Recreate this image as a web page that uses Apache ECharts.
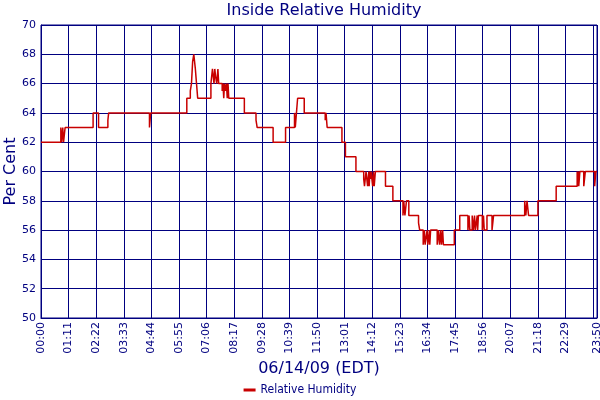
<!DOCTYPE html>
<html>
<head>
<meta charset="utf-8">
<script src="https://cdn.jsdelivr.net/npm/echarts@6/dist/echarts.min.js"></script>
<style>html,body{margin:0;padding:0;background:#fff}#c{width:600px;height:400px}</style>
</head>
<body>
<div id="c"></div>
<script>
// change points: minutes after midnight (06/14/09 EDT)
const minutes = [0,51,53,56,58,62,134,148,172,174,279,282,375,384,387,390,393,397,400,403,
  437,441,445,447,449,452,455,457,466,468,470,472,474,477,479,481,483,523,553,556,597,629,652,654,657,660,677,
  731,733,736,774,783,810,830,832,836,840,843,844,846,847,849,853,855,857,860,886,905,931,933,936,940,946,971,974,
  983,986,988,993,995,999,1000,1002,1019,1022,1025,1028,1030,1033,1035,1063,1077,
  1098,1101,1103,1109,1112,1115,1117,1122,1123,1125,1135,1138,1140,1147,1160,1164,
  1244,1247,1250,1254,1278,1325,1379,1380,1382,1383,1386,1396,1400,1424,1427,1430];
// relative humidity (%) from each change point onwards
const humidity = [62,63,62,63,62,63,64,63,63.5,64,63,64,65,65.5,66,67.5,68,67,66,65,
  66,67,66,67,66.5,66,67,66,65.5,66,65,66,65.5,66,65,66,65,64,63.5,63,62,63,64,63,64,65,64,
  63.5,64,63,62,61,60,59.5,59,60,59,60,59,60,59.5,60,59,60,59,60,59,58,57,58,57,58,57,56.5,56,
  55,56,55,56,55,56,55,56,55,56,55,56,55,56,55,56,57,
  56,57,56,57,56,57,56,57,56,57,56,57,56,57,56,57,
  58,57,58,57,58,59,60,59,60,59,60,59,60,59,60,60];
const seriesName = 'Relative Humidity';
const titleText = 'Inside Relative Humidity';
const xName = '06/14/09 (EDT)';
const yName = 'Per Cent';
const xMax = 1430, xStep = 71;
const yMin = 50, yMax = 70, yStep = 2;

const navy = '#000080';
const pts = minutes.map((m, i) => [m, humidity[i]]);
function hhmm(v) {
  const h = Math.floor(v / 60), m = Math.round(v % 60);
  return String(h).padStart(2, '0') + ':' + String(m).padStart(2, '0');
}
const chart = echarts.init(document.getElementById('c'), null, {renderer: 'canvas'});
chart.setOption({
  animation: false,
  textStyle: {fontFamily: 'DejaVu Sans'},
  title: {
    text: titleText, left: 319, top: -2, textAlign: 'center',
    textStyle: {color: navy, fontSize: 16, fontWeight: 'normal', fontFamily: 'DejaVu Sans'}
  },
  grid: {left: 41, right: 3, top: 25, bottom: 82, show: true, borderColor: navy, borderWidth: 1,
    containLabel: false, outerBoundsMode: 'none'},
  legend: {
    data: [seriesName], bottom: -1, left: 'center', icon: 'rect', itemWidth: 12, itemHeight: 3, itemGap: 5,
    textStyle: {color: navy, fontSize: 12, fontFamily: 'DejaVu Sans Condensed'}
  },
  xAxis: {
    type: 'value', min: 0, max: xMax, interval: xStep,
    name: xName, nameLocation: 'middle', nameGap: 43, nameMoveOverlap: false,
    nameTextStyle: {color: navy, fontSize: 16, fontFamily: 'DejaVu Sans'},
    axisLine: {lineStyle: {color: navy}},
    axisTick: {show: false},
    axisLabel: {rotate: 90, color: navy, fontSize: 11, margin: 4, formatter: hhmm, showMaxLabel: true, hideOverlap: false},
    splitLine: {show: true, lineStyle: {color: navy, width: 1}}
  },
  yAxis: {
    type: 'value', min: yMin, max: yMax, interval: yStep,
    name: yName, nameLocation: 'middle', nameGap: 22, nameRotate: 90, nameMoveOverlap: false,
    nameTextStyle: {color: navy, fontSize: 16, fontFamily: 'DejaVu Sans'},
    axisLine: {show: true, lineStyle: {color: navy}},
    axisTick: {show: false},
    axisLabel: {color: navy, fontSize: 11, margin: 5},
    splitLine: {show: true, lineStyle: {color: navy, width: 1}}
  },
  series: [{
    name: seriesName, type: 'line', step: 'end', data: pts, showSymbol: false, symbol: 'none',
    lineStyle: {color: '#c80000', width: 1.5}, itemStyle: {color: '#c80000'}
  }]
});
</script>
</body>
</html>
